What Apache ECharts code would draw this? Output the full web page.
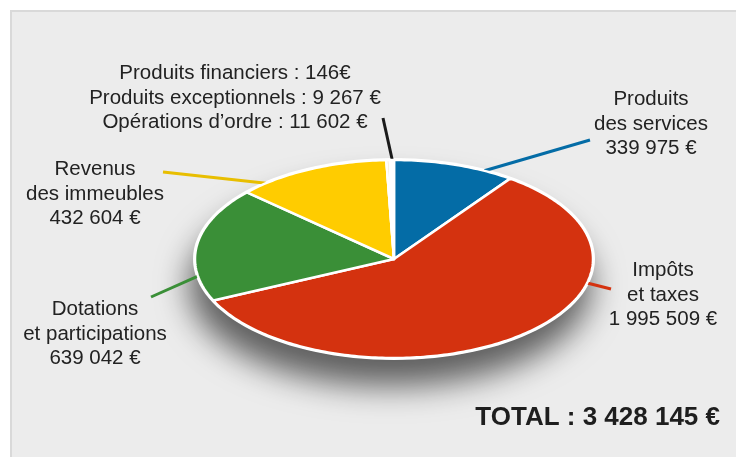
<!DOCTYPE html>
<html>
<head>
<meta charset="utf-8">
<script src="https://cdn.jsdelivr.net/npm/echarts@6/dist/echarts.min.js"></script>
<style>
  html, body { margin: 0; background: #fff; }
  #chart { width: 736px; height: 457px; }
</style>
</head>
<body>
<div id="chart"></div>
<script>
// data
const categories = ['Produits des services', 'Impôts et taxes', 'Dotations et participations',
  'Revenus des immeubles', 'Produits financiers', 'Produits exceptionnels', 'Opérations d’ordre'];
const values = [339975, 1995509, 639042, 432604, 146, 9267, 11602];
const colors = ['#046ca6', '#d4320f', '#3a8f37', '#ffcc00', '#ffffff', '#f7e3c4', '#ffffff'];
const labels = [
  'Produits\ndes services\n339 975 €',
  'Impôts\net taxes\n1 995 509 €',
  'Dotations\net participations\n639 042 €',
  'Revenus\ndes immeubles\n432 604 €',
  'Produits financiers : 146€\nProduits exceptionnels : 9 267 €\nOpérations d’ordre : 11 602 €'
];
const totalText = 'TOTAL : 3 428 145 €';

// layout of the tilted pie
const cx = 394, cy = 259, rx = 199, ry = 99;
// leader lines: start angle on the rim (deg from top, clockwise), end point, label anchor
const leaders = [
  { a: 27, end: [590, 140], color: '#046ca6', text: [651, 124] },
  { a: 104, end: [611, 289], color: '#d4320f', text: [663, 295] },
  { a: 260, end: [151, 297], color: '#3a8f37', text: [95, 334] },
  { a: 320, end: [163, 172], color: '#e8be00', text: [95, 194] },
  { a: 359.5, end: [383, 118], color: '#1a1a1a', text: [235, 98] }
];

const total = values.reduce((s, v) => s + v, 0);
const cum = [0];
values.forEach((v, i) => cum.push(cum[i] + v));

const rim = (deg) => {
  const t = deg * Math.PI / 180;
  return [cx + rx * Math.sin(t), cy - ry * Math.cos(t)];
};

const chart = echarts.init(document.getElementById('chart'));

const option = {
  animation: false,
  backgroundColor: '#ffffff',
  graphic: [
    {
      type: 'rect', z: -10,
      shape: { x: 11, y: 11, width: 740, height: 460 },
      style: { fill: '#ececec', stroke: '#d9d9d9', lineWidth: 2 }
    },
    {
      type: 'ellipse', z: 0,
      shape: { cx: cx, cy: cy, rx: rx + 2, ry: ry + 2 },
      style: {
        fill: '#ffffff',
        shadowBlur: 32, shadowOffsetX: -4, shadowOffsetY: 26,
        shadowColor: 'rgba(0,0,0,0.6)'
      }
    },
    {
      type: 'text', z: 10,
      style: {
        x: 720, y: 418, text: totalText, align: 'right', verticalAlign: 'middle',
        font: 'bold 26px "Liberation Sans", Arial, sans-serif', fill: '#1e1e1e'
      }
    }
  ],
  series: [
    {
      // leader lines and labels
      type: 'custom',
      coordinateSystem: 'none',
      z: 1,
      silent: true,
      data: leaders.map((_, i) => i),
      renderItem: (params) => {
        const L = leaders[params.dataIndex];
        const p = rim(L.a);
        return {
          type: 'group',
          children: [
            {
              type: 'line',
              shape: { x1: p[0], y1: p[1], x2: L.end[0], y2: L.end[1] },
              style: { stroke: L.color, lineWidth: 3 }
            },
            {
              type: 'text',
              style: {
                x: L.text[0], y: L.text[1], text: labels[params.dataIndex],
                align: 'center', verticalAlign: 'middle', lineHeight: 24.5,
                font: '20.5px "Liberation Sans", Arial, sans-serif', fill: '#222222'
              }
            }
          ]
        };
      }
    },
    {
      // elliptical pie slices
      type: 'custom',
      coordinateSystem: 'none',
      z: 2,
      data: values.map((v, i) => ({ value: v, name: categories[i] })),
      renderItem: (params) => {
        const i = params.dataIndex;
        const a0 = cum[i] / total * 360;
        const a1 = cum[i + 1] / total * 360;
        const pts = [[cx, cy]];
        const steps = Math.max(2, Math.ceil(a1 - a0));
        for (let k = 0; k <= steps; k++) {
          pts.push(rim(a0 + (a1 - a0) * k / steps));
        }
        return {
          type: 'polygon',
          shape: { points: pts },
          style: { fill: colors[i], stroke: '#ffffff', lineWidth: 2.5, lineJoin: 'round' }
        };
      }
    }
  ]
};

chart.setOption(option);
</script>
</body>
</html>
